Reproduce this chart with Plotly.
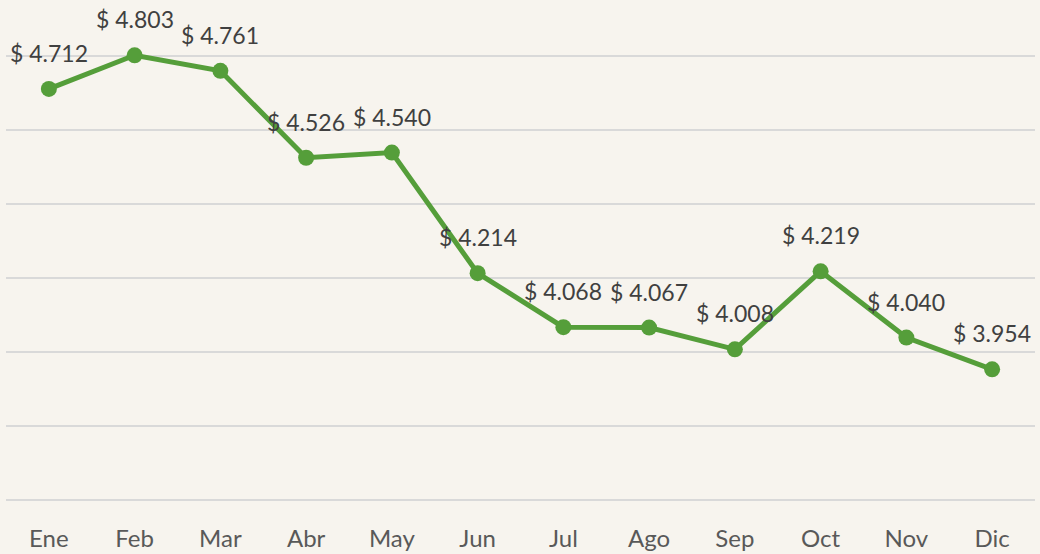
import plotly.graph_objects as go

months = ["Ene", "Feb", "Mar", "Abr", "May", "Jun", "Jul", "Ago", "Sep", "Oct", "Nov", "Dic"]
values = [4.712, 4.803, 4.761, 4.526, 4.540, 4.214, 4.068, 4.067, 4.008, 4.219, 4.040, 3.954]
labels = ["$ 4.712", "$ 4.803", "$ 4.761", "$ 4.526", "$ 4.540", "$ 4.214",
          "$ 4.068", "$ 4.067", "$ 4.008", "$ 4.219", "$ 4.040", "$ 3.954"]

GREEN = "#559E3A"
BG = "#F7F4EE"
FONT = "Lato"

fig = go.Figure()
fig.add_trace(go.Scatter(
    x=months, y=values, mode="lines+markers",
    line=dict(color=GREEN, width=5),
    marker=dict(color=GREEN, size=16),
    cliponaxis=False, hoverinfo="skip",
))

for m, v, t in zip(months, values, labels):
    fig.add_annotation(x=m, y=v, text=t, showarrow=False, yshift=36,
                       font=dict(family=FONT, size=23, color="#404040"))

fig.update_layout(
    width=1040, height=554,
    margin=dict(l=6, r=5, t=49, b=50, pad=0, autoexpand=False),
    paper_bgcolor=BG, plot_bgcolor=BG,
    showlegend=False,
    xaxis=dict(type="category", range=[-0.5, 11.5], showgrid=False, zeroline=False,
               showline=False, ticks="outside", ticklen=13, tickcolor=BG,
               automargin=False,
               tickfont=dict(family=FONT, size=24, color="#595959")),
    yaxis=dict(range=[3.59, 4.82], dtick=0.2, tick0=3.6, showticklabels=False,
               showgrid=True, gridcolor="#D9D9D9", gridwidth=1.5, zeroline=False,
               showline=False, automargin=False),
)

fig.write_html("out.html", config={"displayModeBar": False},
               post_script="document.body.style.margin='0';document.body.style.overflow='hidden';")
